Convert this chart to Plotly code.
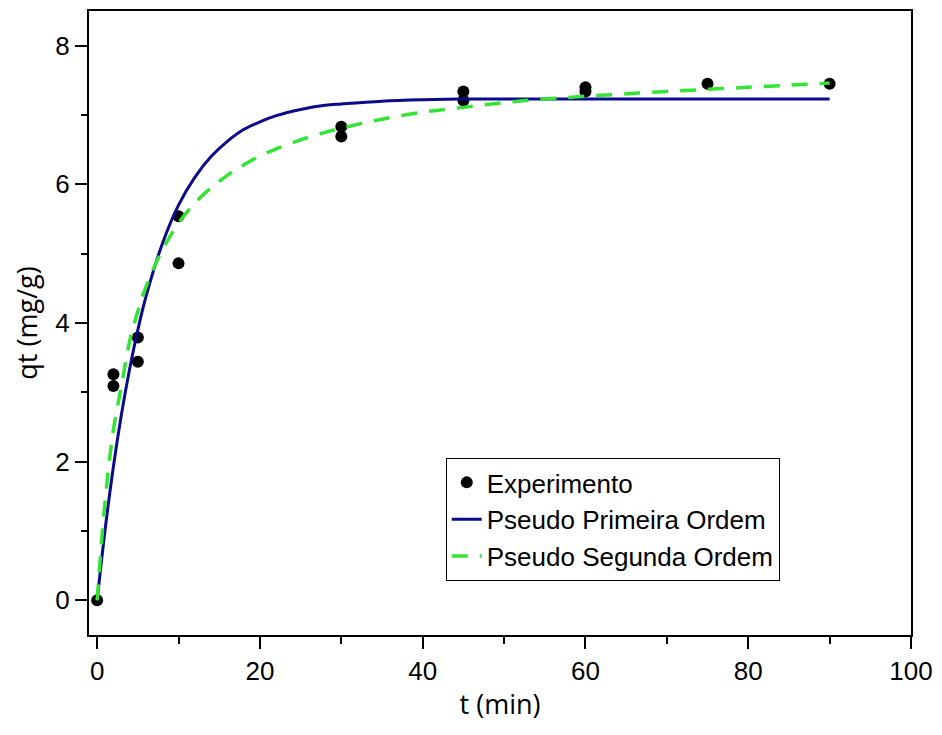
import plotly.graph_objects as go

# experimental points (t in min, qt in mg/g)
t_exp = [0, 2, 2, 5, 5, 10, 10, 30, 30, 45, 45, 60, 60, 75, 90]
q_exp = [0, 3.26, 3.09, 3.79, 3.44, 5.54, 4.86, 6.83, 6.69, 7.34, 7.21, 7.40, 7.34, 7.45, 7.45]

# fitted curves
t_fit = [0, 1, 2, 3, 4, 5, 6, 8, 10, 12, 14, 16, 18, 20, 22, 25, 28, 30,
         35, 40, 45, 50, 55, 60, 70, 80, 90]
q_pfo = [0, 1.04, 1.93, 2.69, 3.34, 3.90, 4.38, 5.14, 5.70, 6.10, 6.40, 6.62, 6.79, 6.90,
         6.99, 7.08, 7.14, 7.16, 7.20, 7.22, 7.23, 7.23, 7.23, 7.23, 7.23, 7.23, 7.23]
q_pso = [0, 1.46, 2.46, 3.10, 3.74, 4.17, 4.52, 5.05, 5.44, 5.73, 5.95, 6.13, 6.28, 6.41,
         6.51, 6.64, 6.75, 6.81, 6.94, 7.04, 7.11, 7.18, 7.23, 7.27, 7.34, 7.40, 7.46]

names = ["Experimento", "Pseudo Primeira Ordem", "Pseudo Segunda Ordem"]

TICK_FONT = dict(family="Liberation Sans, Arial, sans-serif", size=26, color="black")
TITLE_FONT = dict(family="Open Sans, Noto Sans, sans-serif", size=27, color="black")

fig = go.Figure()

fig.add_trace(go.Scatter(
    x=t_exp, y=q_exp, mode="markers", name=names[0],
    marker=dict(size=12, color="black"),
))
fig.add_trace(go.Scatter(
    x=t_fit, y=q_pfo, mode="lines", name=names[1],
    line=dict(color="#0a0a8c", width=3, shape="spline"),
))
fig.add_trace(go.Scatter(
    x=t_fit, y=q_pso, mode="lines", name=names[2],
    line=dict(color="#33e533", width=3.5, dash="16px,12px", shape="spline"),
))

axis_common = dict(
    showline=True, linecolor="black", linewidth=2, mirror=True,
    showgrid=False, zeroline=False, automargin=False,
    ticks="outside", ticklen=12, tickwidth=2, tickcolor="black",
    tickfont=TICK_FONT, ticklabeloverflow="allow",
)

# page body has an 8px margin, so the figure is a bit smaller than the window
fig.update_layout(
    width=926, height=719,
    margin=dict(l=81, r=23, t=3, b=92),
    plot_bgcolor="white", paper_bgcolor="white",
    xaxis=dict(
        range=[-1, 100], dtick=20, tick0=0,
        minor=dict(dtick=10, ticklen=7, tickwidth=2, tickcolor="black", ticks="outside"),
        title=dict(text="t (min)", font=TITLE_FONT, standoff=10),
        **axis_common,
    ),
    yaxis=dict(
        range=[-0.5, 8.5], dtick=2, tick0=0,
        minor=dict(dtick=1, ticklen=6, tickwidth=2, tickcolor="black", ticks="outside"),
        title=dict(text="qt (mg/g)", font=TITLE_FONT, standoff=18),
        **axis_common,
    ),
    legend=dict(
        x=0.434, y=0.2837, xanchor="left", yanchor="top",
        bgcolor="white", bordercolor="black", borderwidth=1,
        font=dict(family="Liberation Sans, Arial, sans-serif", size=26, color="black"),
        tracegroupgap=0,
    ),
)

fig.write_html("out.html")
